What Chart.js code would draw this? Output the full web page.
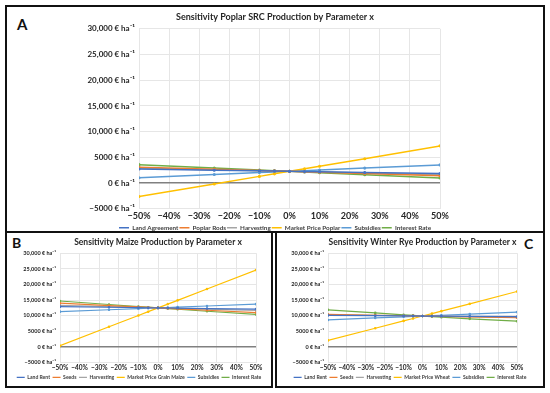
<!DOCTYPE html>
<html>
<head>
<meta charset="utf-8">
<script src="https://cdn.jsdelivr.net/npm/chart.js@4.4.1/dist/chart.umd.min.js"></script>
<style>
  body { margin: 0; width: 550px; height: 393px; background: #fff; position: relative; overflow: hidden; font-family: Lato, "Open Sans", sans-serif; }
  .box { position: absolute; border: 2px solid #111; box-sizing: border-box; }
  .tag { position: absolute; font-weight: bold; color: #111; }
  canvas { position: absolute; }
</style>
</head>
<body>
<div class="box" style="left:5px;top:5px;width:540px;height:228px"></div>
<div class="box" style="left:5px;top:231px;width:268px;height:157px"></div>
<div class="box" style="left:275px;top:231px;width:270px;height:157px"></div>
<div class="tag" style="left:17px;top:15px;font-size:15px">A</div>
<div class="tag" style="left:12px;top:234px;font-size:14px">B</div>
<div class="tag" style="left:524px;top:235px;font-size:14px">C</div>
<canvas id="chartA" width="536" height="234" style="left:7px;top:7px"></canvas>
<canvas id="chartB" width="264" height="157" style="left:7px;top:233px"></canvas>
<canvas id="chartC" width="266" height="157" style="left:277px;top:233px"></canvas>
<script>
// parameter change in %
const xPct = [-50, -25, -10, -5, 0, 5, 10, 25, 50];

// A - poplar SRC
const landAgreementA   = [2750, 2520, 2390, 2345, 2300, 2255, 2210, 2080, 1880];
const poplarRodsA      = [3100, 2700, 2460, 2380, 2300, 2220, 2140, 1900, 1450];
const harvestingA      = [2900, 2600, 2420, 2360, 2300, 2240, 2180, 2000, 1650];
const marketPricePoplar= [-2600, -150, 1320, 1810, 2300, 2790, 3280, 4750, 7250];
const subsidiesA       = [1050, 1680, 2050, 2175, 2300, 2425, 2550, 2930, 3550];
const interestRateA    = [3600, 2950, 2560, 2430, 2300, 2170, 2040, 1650, 1000];

// B - maize
const landRentB        = [12900, 12700, 12580, 12540, 12500, 12460, 12420, 12300, 12100];
const seedsB           = [14000, 13250, 12800, 12650, 12500, 12350, 12200, 11750, 11000];
const harvestingB      = [13300, 12900, 12660, 12580, 12500, 12420, 12340, 12100, 11700];
const marketPriceMaize = [400, 6450, 10080, 11290, 12500, 13710, 14920, 18550, 24600];
const subsidiesB       = [11300, 11900, 12260, 12380, 12500, 12620, 12740, 13100, 13700];
const interestRateB    = [14700, 13580, 12930, 12720, 12500, 12290, 12070, 11430, 10400];

// C - winter rye
const landRentC        = [10100, 10000, 9940, 9920, 9900, 9880, 9860, 9800, 9700];
const seedsC           = [10400, 10150, 10000, 9950, 9900, 9850, 9800, 9650, 9350];
const harvestingC      = [10350, 10120, 9990, 9945, 9900, 9855, 9810, 9680, 9450];
const marketPriceWheat = [2100, 6000, 8340, 9120, 9900, 10680, 11460, 13800, 17750];
const subsidiesC       = [8650, 9280, 9650, 9775, 9900, 10025, 10150, 10530, 11150];
const interestRateC    = [11900, 10900, 10300, 10100, 9900, 9720, 9540, 9000, 8250];

const colors = ['#4472C4', '#ED7D31', '#A5A5A5', '#FFC000', '#5B9BD5', '#70AD47'];
const FONT = 'Lato, "Open Sans", sans-serif';

function euroTick(v) {
  const a = Math.abs(v);
  const s = a >= 10000 ? a.toLocaleString('en-US') : String(a);
  return (v < 0 ? '\u2212' : '') + s + ' \u20ac ha\u207b\u00b9';
}
function pctTick(v) {
  return (v < 0 ? '\u2212' : '') + Math.abs(v) + '%';
}

function makeChart(id, title, names, series, o) {
  const datasets = series.map((vals, i) => ({
    label: names[i],
    data: vals.map((y, k) => ({ x: xPct[k], y: y })),
    borderColor: colors[i],
    backgroundColor: colors[i],
    borderWidth: o.lw,
    pointRadius: o.pr,
    pointHoverRadius: 0,
    tension: 0
  }));
  return new Chart(document.getElementById(id), {
    type: 'line',
    data: { datasets },
    options: {
      responsive: false,
      animation: false,
      layout: { padding: { left: 0, right: 0, top: 0, bottom: 0 } },
      plugins: {
        title: {
          display: true, text: title, fullSize: o.titleFull,
          color: '#262626',
          font: { family: FONT, size: o.titleSize, weight: 'bold' },
          padding: { top: o.titleTop, bottom: o.titleBottom }
        },
        legend: {
          position: 'bottom',
          labels: {
            usePointStyle: true, pointStyle: 'line', pointStyleWidth: o.legW,
            color: '#404040', padding: o.legPad,
            font: { family: FONT, size: o.legSize, weight: 'bold' }
          }
        },
        tooltip: { enabled: false }
      },
      scales: {
        x: {
          type: 'linear', min: -50, max: 50,
          border: { display: false },
          grid: { color: '#e6e6e6', drawTicks: false },
          ticks: {
            stepSize: 10, callback: pctTick, color: '#262626', padding: o.xPad,
            maxRotation: 0, autoSkip: false,
            font: { family: FONT, size: o.xSize, weight: 'bold' }
          }
        },
        y: {
          min: -5000, max: 30000,
          border: { display: false },
          afterFit: s => { s.width = o.yWidth; },
          grid: {
            drawTicks: false,
            color: c => c.tick && c.tick.value === 0 ? '#808080' : '#e6e6e6',
            lineWidth: c => c.tick && c.tick.value === 0 ? 1.5 : 1
          },
          ticks: {
            stepSize: 5000, callback: euroTick, color: '#262626', padding: 4,
            font: { family: FONT, size: o.ySize, weight: 'bold' }
          }
        },
        // empty spacer on the right so the legend keeps the full width
        yRight: {
          position: 'right', min: 0, max: 1,
          border: { display: false }, grid: { display: false }, ticks: { display: false },
          afterFit: s => { s.width = o.rightGap; }
        }
      }
    }
  });
}

makeChart('chartA', 'Sensitivity Poplar SRC Production by Parameter x',
  ['Land Agreement', 'Poplar Rods', 'Harvesting', 'Market Price Poplar', 'Subsidies', 'Interest Rate'],
  [landAgreementA, poplarRodsA, harvestingA, marketPricePoplar, subsidiesA, interestRateA],
  { lw: 1.5, pr: 0.8, rightGap: 103, titleFull: true, titleSize: 9, titleTop: 5, titleBottom: 6,
    legW: 10, legPad: 1, legSize: 6.3, xPad: 2, xSize: 9, ySize: 8, yWidth: 132 });

makeChart('chartB', 'Sensitivity Maize Production by Parameter x',
  ['Land Rent', 'Seeds', 'Harvesting', 'Market Price Grain Maize', 'Subsidies', 'Interest Rate'],
  [landRentB, seedsB, harvestingB, marketPriceMaize, subsidiesB, interestRateB],
  { lw: 1.2, pr: 0.7, rightGap: 15, titleFull: false, titleSize: 8.5, titleTop: 4, titleBottom: 6,
    legW: 8, legPad: 2.5, legSize: 5.1, xPad: 1, xSize: 6.5, ySize: 5.5, yWidth: 53 });

makeChart('chartC', 'Sensitivity Winter Rye Production by Parameter x',
  ['Land Rent', 'Seeds', 'Harvesting', 'Market Price Wheat', 'Subsidies', 'Interest Rate'],
  [landRentC, seedsC, harvestingC, marketPriceWheat, subsidiesC, interestRateC],
  { lw: 1.2, pr: 0.7, rightGap: 26, titleFull: false, titleSize: 8.5, titleTop: 4, titleBottom: 6,
    legW: 8, legPad: 2.5, legSize: 5.1, xPad: 1, xSize: 6.5, ySize: 5.5, yWidth: 51 });
</script>
</body>
</html>
